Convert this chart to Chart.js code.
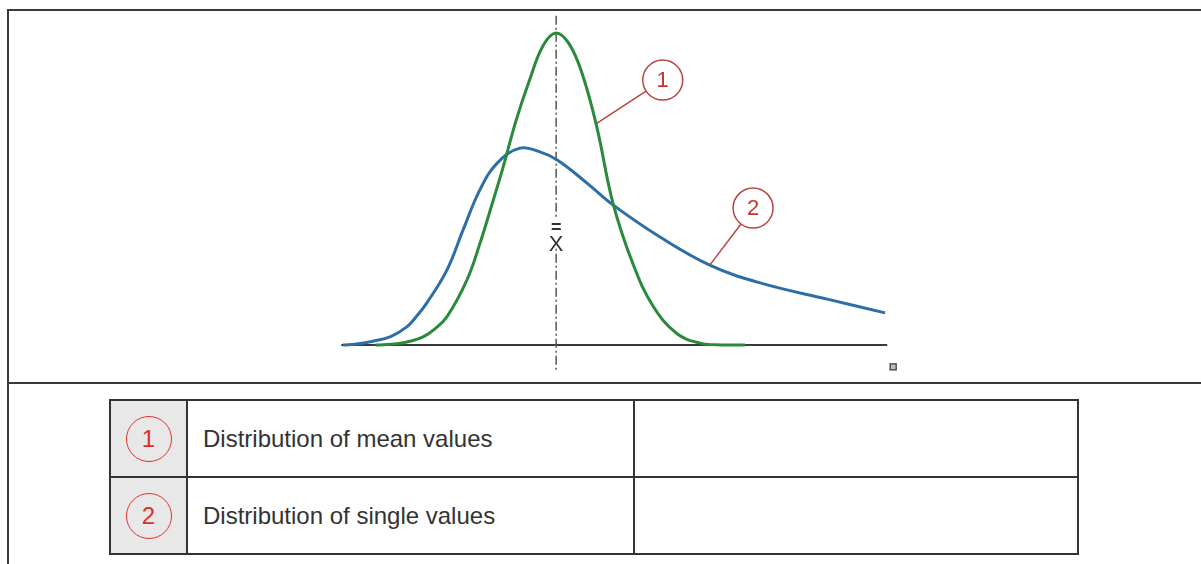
<!DOCTYPE html>
<html>
<head>
<meta charset="utf-8">
<script src="https://cdn.jsdelivr.net/npm/chart.js@4.4.1/dist/chart.umd.min.js"></script>
<style>
    html, body { margin: 0; padding: 0; background: #fff; width: 1201px; height: 564px; overflow: hidden;
        font-family: "Liberation Sans", Arial, sans-serif; }
    #frame { position: absolute; left: 7px; top: 9px; width: 1300px; height: 700px;
        border-left: 2px solid #3a3a3a; border-top: 2px solid #3a3a3a; }
    #divider { position: absolute; left: 8px; top: 382px; width: 1193px; border-top: 2px solid #3a3a3a; }
    #chart-box { position: absolute; left: 0; top: 0; width: 1201px; height: 382px; }
    table { position: absolute; left: 109px; top: 399px; border-collapse: collapse; table-layout: fixed; }
    td { border: 2px solid #333; padding: 0; height: 75px; color: #333; font-size: 24px; }
    td.num { width: 75px; background: #e8e8e8; }
    td.txt { width: 430px; padding-left: 15px; }
    td.empty { width: 442px; }
    .circle { width: 46px; height: 46px; margin: 0 auto; border: 1.5px solid #e0342c; border-radius: 50%;
        color: #d8302a; font-size: 24px; line-height: 44px; text-align: center; box-sizing: border-box; }
</style>
</head>
<body>
<div id="frame"></div>
<div id="divider"></div>
<div id="chart-box"><canvas id="dist-chart"></canvas></div>

<table>
    <tr><td class="num"><div class="circle">1</div></td><td class="txt">Distribution of mean values</td><td class="empty"></td></tr>
    <tr><td class="num"><div class="circle">2</div></td><td class="txt">Distribution of single values</td><td class="empty"></td></tr>
</table>

<script>
// ---------------------------- Curve data (x: 0..100 along the axis, y: 0..100 height) ---------------------------- //

// 1 - distribution of mean values (green)
const mean_x = [ 6, 10, 12.4, 14.8, 17, 19.2, 22.9, 25.3, 27.7, 29.6, 32, 34.5, 37, 39.4,
    41.8, 44.2, 46.9, 49.9, 53.6, 57.3, 61.7, 66, 70, 74.3 ];
const mean_y = [ 0, 0.4, 1.2, 2.6, 5.2, 9.0, 20.8, 32.5, 46, 57, 72, 85, 96, 100,
    96.5, 87, 70, 45.5, 26, 12.5, 3.7, 0.6, 0, 0 ];

// 2 - distribution of single values (blue)
const single_x = [ 0, 2.5, 5.5, 8.8, 11.8, 13.6, 15.5, 19.2, 22.2, 25.3, 28.5, 32.7, 36.4, 39.6,
    45.1, 49.9, 58.6, 67.8, 77.1, 89.5, 100.2 ];
const single_y = [ 0, 0.35, 1.2, 2.7, 5.8, 9.2, 13.5, 24.0, 36.9, 49.7, 58.3, 63.1, 61.9, 59.3,
    51.9, 44.9, 34.6, 25.6, 19.9, 14.7, 10.3 ];

// mean position (x double bar) and callout labels
const grand_mean = 39.4;
const callout_labels = [ "1", "2" ];
const callout_at = [ [ 59.1, 84.9 ], [ 75.8, 43.9 ] ];
const callout_tip = [ [ 46.9, 71 ], [ 67.8, 25.6 ] ];

const to_points = ( xs, ys ) => xs.map( ( x, i ) => ( { x: x, y: ys[ i ] } ) );

// ---------------------------- Extra drawing: axis, mean line, callouts ---------------------------- //
const decorations = {
    id: 'decorations',
    beforeDatasetsDraw( chart ) {
        const ctx = chart.ctx;
        const xs = chart.scales.x;
        const ys = chart.scales.y;
        ctx.save();

        // baseline
        ctx.strokeStyle = '#3a3a3a';
        ctx.lineWidth = 2;
        ctx.beginPath();
        ctx.moveTo( xs.getPixelForValue( -0.3 ), ys.getPixelForValue( 0 ) );
        ctx.lineTo( xs.getPixelForValue( 100.6 ), ys.getPixelForValue( 0 ) );
        ctx.stroke();

        // dash-dot mean line
        const mx = xs.getPixelForValue( grand_mean );
        ctx.strokeStyle = '#555';
        ctx.lineWidth = 1.5;
        ctx.setLineDash( [ 9, 3, 2, 3 ] );
        ctx.beginPath();
        ctx.moveTo( mx, ys.getPixelForValue( 105.5 ) );
        ctx.lineTo( mx, ys.getPixelForValue( -8.7 ) );
        ctx.stroke();
        ctx.setLineDash( [] );

        // x double bar
        ctx.fillStyle = '#fff';
        ctx.fillRect( mx - 8, ys.getPixelForValue( 40.5 ), 16, 28 );
        ctx.fillStyle = '#333';
        ctx.textAlign = 'center';
        ctx.textBaseline = 'middle';
        ctx.font = '22px "Liberation Sans", Arial, sans-serif';
        ctx.fillText( 'X', mx, ys.getPixelForValue( 32 ) );
        ctx.font = 'bold 18px "Liberation Sans", Arial, sans-serif';
        ctx.fillText( '=', mx, ys.getPixelForValue( 37.5 ) );

        // small square at the end of the axis
        ctx.fillStyle = '#bbb';
        ctx.strokeStyle = '#555';
        ctx.lineWidth = 1.5;
        ctx.fillRect( xs.getPixelForValue( 101.7 ) - 3, ys.getPixelForValue( -7 ) - 3, 6, 6 );
        ctx.strokeRect( xs.getPixelForValue( 101.7 ) - 3, ys.getPixelForValue( -7 ) - 3, 6, 6 );
        ctx.restore();
    },
    afterDatasetsDraw( chart ) {
        const ctx = chart.ctx;
        const xs = chart.scales.x;
        const ys = chart.scales.y;
        const r = 20;
        ctx.save();
        callout_labels.forEach( ( label, i ) => {
            const cx = xs.getPixelForValue( callout_at[ i ][ 0 ] );
            const cy = ys.getPixelForValue( callout_at[ i ][ 1 ] );
            const tx = xs.getPixelForValue( callout_tip[ i ][ 0 ] );
            const ty = ys.getPixelForValue( callout_tip[ i ][ 1 ] );
            const ang = Math.atan2( ty - cy, tx - cx );
            ctx.strokeStyle = '#b8453d';
            ctx.lineWidth = 1.5;
            ctx.beginPath();
            ctx.moveTo( cx + r * Math.cos( ang ), cy + r * Math.sin( ang ) );
            ctx.lineTo( tx, ty );
            ctx.stroke();
            ctx.beginPath();
            ctx.arc( cx, cy, r, 0, Math.PI * 2 );
            ctx.stroke();
            ctx.fillStyle = '#c8342c';
            ctx.textAlign = 'center';
            ctx.textBaseline = 'middle';
            ctx.font = '22px "Liberation Sans", Arial, sans-serif';
            ctx.fillText( label, cx, cy + 1 );
        } );
        ctx.restore();
    }
};

// ---------------------------- Chart ---------------------------- //
const dist_chart = new Chart( document.getElementById( "dist-chart" ),
{
    type: 'line',
    data: {
        datasets: [
        {
            label: 'Distribution of mean values',
            data: to_points( mean_x, mean_y ),
            borderColor: '#2a8a3c',
            borderWidth: 3,
            pointRadius: 0,
            tension: 0.4,
            clip: false
        },
        {
            label: 'Distribution of single values',
            data: to_points( single_x, single_y ),
            borderColor: '#2c6ea6',
            borderWidth: 3,
            pointRadius: 0,
            tension: 0.4,
            clip: false
        } ]
    },
    options: {
        responsive: true,
        maintainAspectRatio: false,
        animation: false,
        layout: {
            padding: { left: 343, right: 317, top: 33, bottom: 37 }
        },
        scales: {
            x: { type: 'linear', min: 0, max: 100, display: false },
            y: { min: 0, max: 100, display: false }
        },
        plugins: {
            legend: { display: false },
            tooltip: { enabled: false }
        }
    },
    plugins: [ decorations ]
} );
</script>
</body>
</html>
